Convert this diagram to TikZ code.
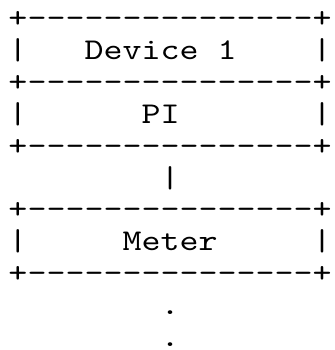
\documentclass[tikz,border=0pt]{standalone}
\usepackage{fontspec}
\newfontfamily\courfont[FakeStretch=1.2]{lmmono10-regular.otf}
\begin{document}
\begin{tikzpicture}[x=19pt,y=-31.8pt,
  ch/.style={anchor=base west,inner sep=0pt,outer sep=0pt,
    font=\courfont\fontsize{30.16pt}{31pt}\selectfont,text=black}]
\useasboundingbox[fill=white] (0pt,0pt) rectangle (334pt,-350pt);
\begin{scope}[shift={(8.5pt,-28pt)}]
  % Device 1 box
  \node[ch] (top1) at (0,0) {+---------------+};
  \node[ch] (l1) at (0,1) {|};
  \node[ch] (dev) at (4,1) {Device 1};
  \node[ch] (r1) at (16,1) {|};
  \node[ch] (mid1) at (0,2) {+---------------+};
  % PI box
  \node[ch] (l2) at (0,3) {|};
  \node[ch] (pi) at (7,3) {PI};
  \node[ch] (r2) at (16,3) {|};
  \node[ch] (bot1) at (0,4) {+---------------+};
  % connector
  \node[ch] (link) at (8,5) {|};
  % Meter box
  \node[ch] (top2) at (0,6) {+---------------+};
  \node[ch] (l3) at (0,7) {|};
  \node[ch] (meter) at (6,7) {Meter};
  \node[ch] (r3) at (16,7) {|};
  \node[ch] (bot2) at (0,8) {+---------------+};
  % dots
  \node[ch] (dot1) at (8,9) {.};
  \node[ch] (dot2) at (8,10) {.};
\end{scope}
\end{tikzpicture}
\end{document}
